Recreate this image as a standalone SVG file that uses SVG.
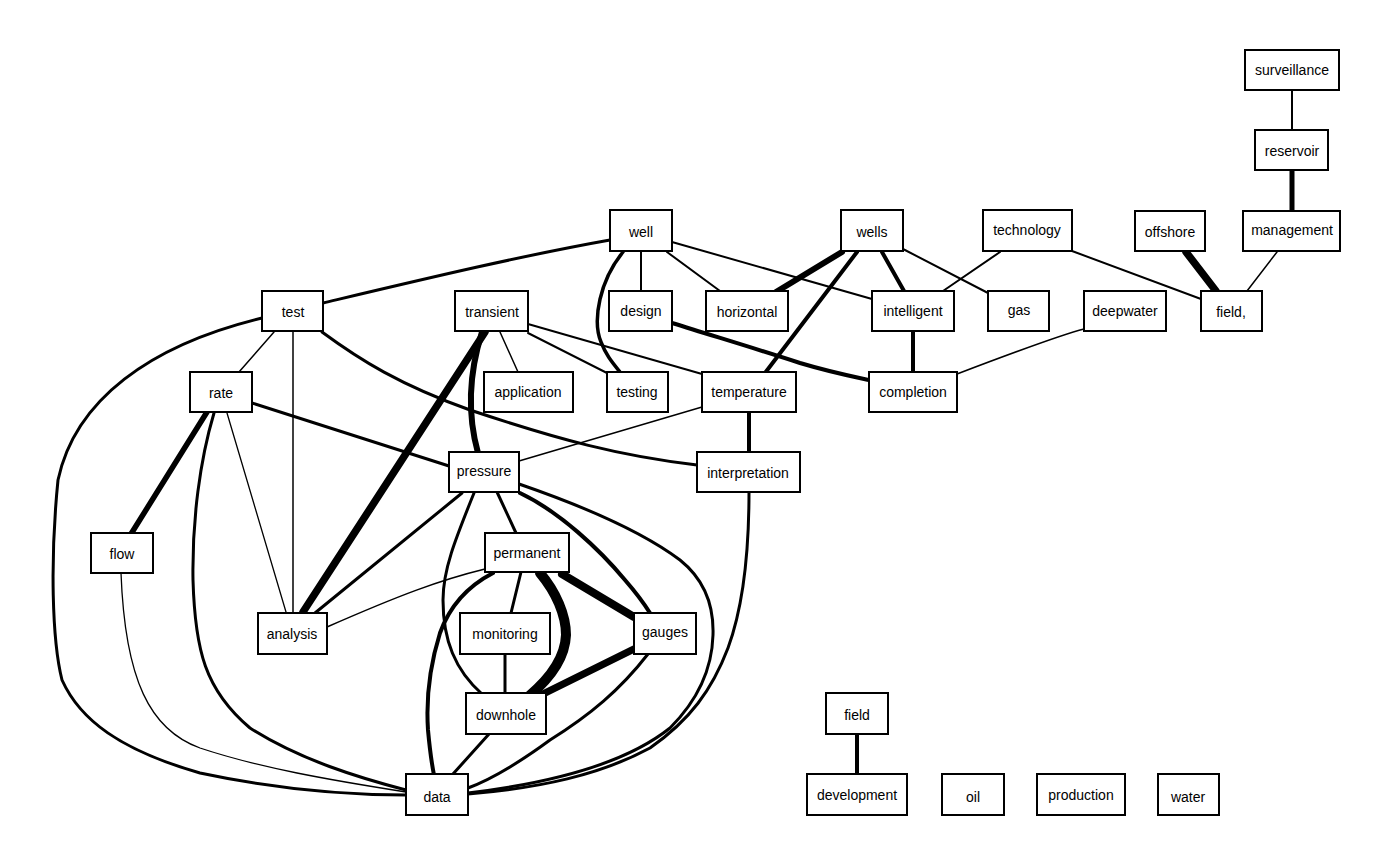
<svg xmlns="http://www.w3.org/2000/svg" width="1400" height="865" viewBox="0 0 1400 865">
<style>
.e{fill:none;stroke:#000;stroke-linecap:round;stroke-linejoin:round}
.n rect{fill:#fff;stroke:#000;stroke-width:2}
.n text{font-family:"Liberation Sans",Arial,sans-serif;font-size:14px;text-anchor:middle;fill:#000}
</style>
<rect width="1400" height="865" fill="#fff"/>
<g id="connectors">
<path class="e" stroke-width="3" d="M610,240 C520,256 420,280 323,303"/>
<path class="e" stroke-width="3" d="M262,318 C150,345 75,400 58,480 C50,560 52,640 62,680 C80,720 120,750 200,773 C280,790 350,795 406,795"/>
<path class="e" stroke-width="1.5" d="M274,332 L239,372"/>
<path class="e" stroke-width="1.5" d="M293,331 L293,613"/>
<path class="e" stroke-width="3" d="M322,332 C360,360 400,385 470,410 C560,440 620,456 697,465"/>
<path class="e" stroke-width="5.5" d="M207,412 L131,534"/>
<path class="e" stroke-width="3" d="M214,413 C200,460 192,520 193,580 C195,650 205,690 250,728 C300,760 360,778 406,790"/>
<path class="e" stroke-width="1.3" d="M227,413 L286,612"/>
<path class="e" stroke-width="3" d="M252,403 L449,466"/>
<path class="e" stroke-width="1.3" d="M121,573 C125,680 150,730 200,748 C260,768 330,780 406,792"/>
<path class="e" stroke-width="7.5" d="M485,332 L303,612"/>
<path class="e" stroke-width="6" d="M482,332 C470,370 466,410 478,453"/>
<path class="e" stroke-width="1.5" d="M500,332 L518,372"/>
<path class="e" stroke-width="2" d="M528,333 L607,373"/>
<path class="e" stroke-width="2" d="M528,324 L702,374"/>
<path class="e" stroke-width="3.5" d="M623,252 C600,280 592,320 601,342 C606,355 612,362 620,372"/>
<path class="e" stroke-width="2" d="M641,251 L641,291"/>
<path class="e" stroke-width="2" d="M667,252 L720,291"/>
<path class="e" stroke-width="2" d="M672,242 L872,299"/>
<path class="e" stroke-width="2" d="M1072,251 L1201,299"/>
<path class="e" stroke-width="2" d="M1000,252 L943,291"/>
<path class="e" stroke-width="6" d="M842,252 L776,292"/>
<path class="e" stroke-width="4" d="M857,252 L765,373"/>
<path class="e" stroke-width="4" d="M882,252 L904,291"/>
<path class="e" stroke-width="2" d="M903,249 L988,293"/>
<path class="e" stroke-width="4" d="M672,323 C720,338 760,350 800,363 C830,372 850,376 869,380"/>
<path class="e" stroke-width="4" d="M913,331 L913,372"/>
<path class="e" stroke-width="1.5" d="M1084,329 C1060,335 1020,350 957,374"/>
<path class="e" stroke-width="7.5" d="M1186,252 L1216,291"/>
<path class="e" stroke-width="1.5" d="M1277,252 L1247,291"/>
<path class="e" stroke-width="5" d="M1292,170 L1292,210"/>
<path class="e" stroke-width="2" d="M1292,90 L1292,129"/>
<path class="e" stroke-width="4" d="M749,412 L749,452"/>
<path class="e" stroke-width="1.5" d="M702,407 L519,461"/>
<path class="e" stroke-width="3" d="M749,492 C749,560 742,610 728,648 C712,690 690,720 650,748 C600,775 540,788 468,794"/>
<path class="e" stroke-width="3" d="M462,493 L315,613"/>
<path class="e" stroke-width="3" d="M497,492 L516,533"/>
<path class="e" stroke-width="4" d="M520,493 C560,512 600,550 625,580 C638,595 645,605 650,613"/>
<path class="e" stroke-width="3" d="M519,484 C580,505 640,530 680,560 C705,580 714,605 713,635 C712,670 698,700 670,728 C630,760 560,782 468,793"/>
<path class="e" stroke-width="3" d="M474,493 C455,540 443,570 443,600 C443,640 455,670 482,694"/>
<path class="e" stroke-width="1.5" d="M485,569 C440,580 400,595 327,627"/>
<path class="e" stroke-width="4" d="M493,573 C470,585 450,605 440,633 C430,665 426,700 428,730 C430,752 432,765 434,775"/>
<path class="e" stroke-width="3" d="M521,572 L511,613"/>
<path class="e" stroke-width="10" d="M540,573 C556,592 566,615 566,635 C565,660 548,680 529,696"/>
<path class="e" stroke-width="8" d="M562,574 L634,617"/>
<path class="e" stroke-width="7" d="M634,649 L543,694"/>
<path class="e" stroke-width="3" d="M648,654 C620,690 590,715 550,740 C520,762 495,778 468,788"/>
<path class="e" stroke-width="3" d="M505,654 L505,693"/>
<path class="e" stroke-width="3" d="M489,734 L453,774"/>
<path class="e" stroke-width="4" d="M857,734 L857,774"/>
</g>
<g id="n-surveillance" class="n"><rect x="1245" y="50" width="94" height="40"/><text x="1292" y="75">surveillance</text></g>
<g id="n-reservoir" class="n"><rect x="1255" y="130" width="73" height="40"/><text x="1292" y="156">reservoir</text></g>
<g id="n-management" class="n"><rect x="1243" y="211" width="97" height="40"/><text x="1292" y="235">management</text></g>
<g id="n-offshore" class="n"><rect x="1135" y="211" width="70" height="40"/><text x="1170" y="237">offshore</text></g>
<g id="n-field-comma" class="n"><rect x="1201" y="291" width="61" height="40"/><text x="1231" y="317">field,</text></g>
<g id="n-deepwater" class="n"><rect x="1084" y="291" width="82" height="40"/><text x="1125" y="316">deepwater</text></g>
<g id="n-well" class="n"><rect x="610" y="210" width="62" height="41"/><text x="641" y="237">well</text></g>
<g id="n-wells" class="n"><rect x="841" y="210" width="62" height="41"/><text x="872" y="237">wells</text></g>
<g id="n-technology" class="n"><rect x="983" y="210" width="89" height="41"/><text x="1027" y="235">technology</text></g>
<g id="n-design" class="n"><rect x="609" y="291" width="63" height="40"/><text x="641" y="316">design</text></g>
<g id="n-horizontal" class="n"><rect x="706" y="291" width="82" height="40"/><text x="747" y="317">horizontal</text></g>
<g id="n-intelligent" class="n"><rect x="872" y="291" width="82" height="40"/><text x="913" y="316">intelligent</text></g>
<g id="n-gas" class="n"><rect x="988" y="291" width="61" height="40"/><text x="1019" y="315">gas</text></g>
<g id="n-test" class="n"><rect x="262" y="291" width="61" height="40"/><text x="293" y="317">test</text></g>
<g id="n-transient" class="n"><rect x="455" y="291" width="73" height="40"/><text x="492" y="317">transient</text></g>
<g id="n-rate" class="n"><rect x="190" y="372" width="62" height="40"/><text x="221" y="398">rate</text></g>
<g id="n-application" class="n"><rect x="484" y="372" width="89" height="40"/><text x="528" y="397">application</text></g>
<g id="n-testing" class="n"><rect x="607" y="372" width="61" height="40"/><text x="637" y="397">testing</text></g>
<g id="n-temperature" class="n"><rect x="702" y="372" width="94" height="40"/><text x="749" y="397">temperature</text></g>
<g id="n-completion" class="n"><rect x="869" y="372" width="88" height="40"/><text x="913" y="397">completion</text></g>
<g id="n-pressure" class="n"><rect x="449" y="452" width="70" height="40"/><text x="484" y="476">pressure</text></g>
<g id="n-interpretation" class="n"><rect x="697" y="452" width="103" height="40"/><text x="748" y="478">interpretation</text></g>
<g id="n-flow" class="n"><rect x="91" y="533" width="62" height="40"/><text x="122" y="559">flow</text></g>
<g id="n-permanent" class="n"><rect x="485" y="533" width="84" height="39"/><text x="527" y="558">permanent</text></g>
<g id="n-analysis" class="n"><rect x="258" y="613" width="69" height="41"/><text x="292" y="639">analysis</text></g>
<g id="n-monitoring" class="n"><rect x="460" y="613" width="90" height="41"/><text x="505" y="639">monitoring</text></g>
<g id="n-gauges" class="n"><rect x="634" y="613" width="62" height="41"/><text x="665" y="637">gauges</text></g>
<g id="n-downhole" class="n"><rect x="466" y="693" width="80" height="41"/><text x="506" y="720">downhole</text></g>
<g id="n-data" class="n"><rect x="406" y="774" width="62" height="41"/><text x="437" y="802">data</text></g>
<g id="n-field" class="n"><rect x="826" y="693" width="62" height="41"/><text x="857" y="720">field</text></g>
<g id="n-development" class="n"><rect x="807" y="774" width="100" height="41"/><text x="857" y="800">development</text></g>
<g id="n-oil" class="n"><rect x="942" y="774" width="62" height="41"/><text x="973" y="802">oil</text></g>
<g id="n-production" class="n"><rect x="1037" y="774" width="88" height="41"/><text x="1081" y="800">production</text></g>
<g id="n-water" class="n"><rect x="1158" y="774" width="61" height="41"/><text x="1188" y="802">water</text></g>
</svg>
